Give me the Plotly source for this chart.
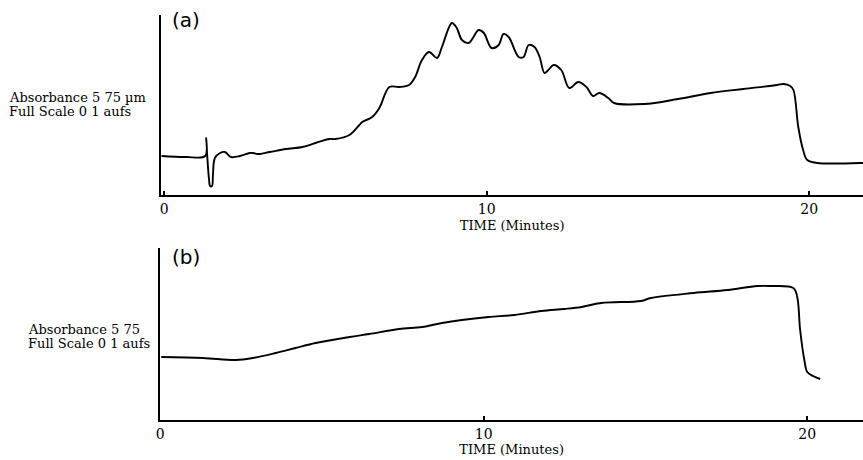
import plotly.graph_objects as go

# Panel (a): time (min) and relative absorbance
time_a = [-0.09, 0.68, 1.27, 1.30, 1.33, 1.39, 1.42, 1.48, 1.51, 1.57, 1.73, 1.88, 2.07, 2.35,
          2.65, 2.75, 2.90, 3.27, 3.77, 4.29, 4.69, 5.12, 5.31, 5.74, 6.05, 6.14, 6.45, 6.67,
          6.98, 7.28, 7.59, 7.78, 7.99, 8.21, 8.46, 8.61, 8.92, 9.07, 9.23, 9.44, 9.75, 9.91,
          10.15, 10.37, 10.52, 10.68, 10.99, 11.14, 11.30, 11.48, 11.64, 11.79, 11.91, 12.07,
          12.31, 12.56, 12.84, 13.09, 13.30, 13.49, 13.77, 13.95, 14.88, 15.93, 16.94, 17.96,
          19.01, 19.20, 19.41, 19.51, 19.66, 19.81, 19.94, 20.25, 21.57, 21.67]
abs_a = [39, 38, 39, 57, 40, 15, 9, 9, 20, 37, 42, 43, 38, 39,
         42, 42, 41, 43, 46, 48, 52, 56, 56, 60, 70, 73, 78, 87,
         108, 108, 110, 118, 135, 143, 137, 148, 172, 167, 155, 152, 165, 162,
         147, 150, 161, 158, 138, 138, 150, 148, 138, 122, 125, 130,
         125, 107, 113, 108, 99, 102, 97, 92, 91, 96, 102, 106,
         110, 111, 109, 105, 68, 45, 35, 32, 32, 32]

# Panel (b)
time_b = [0.03, 1.32, 2.34, 2.86, 3.57, 4.18, 4.80, 5.85, 6.46, 7.38, 8.09, 8.71, 9.32, 10.15,
          10.95, 11.78, 12.49, 13.02, 13.63, 14.86, 15.17, 16.49, 17.54, 18.46, 18.86, 19.57,
          19.69, 19.78, 19.91, 20.00, 20.18, 20.40]
abs_b = [63, 62, 60, 62, 67, 72, 77, 83, 86, 91, 93, 97, 100, 103,
         105, 109, 111, 113, 117, 119, 122, 127, 130, 134, 134, 132,
         123, 90, 60, 48, 44, 41]

tick_vals = [0, 10, 20]
tick_text = ["0", "10", "20"]

W, H = 863, 460
FONT = "DejaVu Serif"

fig = go.Figure()
fig.add_trace(go.Scatter(x=time_a, y=abs_a, mode="lines", line=dict(color="black", width=1.9),
                         line_shape="spline", xaxis="x", yaxis="y", showlegend=False))
fig.add_trace(go.Scatter(x=time_b, y=abs_b, mode="lines", line=dict(color="black", width=1.9),
                         line_shape="spline", xaxis="x2", yaxis="y2", showlegend=False))

axis_common = dict(showgrid=False, zeroline=False, showline=True, linecolor="black", linewidth=1.8)

fig.update_layout(
    width=W, height=H,
    margin=dict(l=0, r=0, t=0, b=0),
    paper_bgcolor="white", plot_bgcolor="white",
    font=dict(family=FONT, color="black"),
    xaxis=dict(domain=[158 / W, 1], range=[(158 - 161) / 32.4, (863 - 161) / 32.4],
               tickvals=tick_vals, ticktext=tick_text, ticks="inside", ticklen=4, tickwidth=1.5,
               tickcolor="black", tickfont=dict(size=14, family=FONT),
               title=dict(text="TIME (Minutes)", font=dict(size=13, family=FONT), standoff=5),
               anchor="y", **axis_common),
    yaxis=dict(domain=[1 - 195 / H, 1 - 15 / H], range=[0, 180], showticklabels=False,
               ticks="", anchor="x", **axis_common),
    xaxis2=dict(domain=[157 / W, 1], range=[0, (863 - 157) / 32.5],
                tickvals=tick_vals, ticktext=tick_text, ticks="inside", ticklen=4, tickwidth=1.5,
                tickcolor="black", tickfont=dict(size=14, family=FONT),
                title=dict(text="TIME (Minutes)", font=dict(size=13, family=FONT), standoff=4),
                anchor="y2", **axis_common),
    yaxis2=dict(domain=[1 - 420 / H, 1 - 248 / H], range=[0, 172], showticklabels=False,
                ticks="", anchor="x2", **axis_common),
)

def ann(text, xpx, ypx, size, family=FONT, xanchor="left"):
    fig.add_annotation(text=text, x=xpx / W, y=1 - ypx / H, xref="paper", yref="paper",
                       xanchor=xanchor, yanchor="middle", showarrow=False, borderpad=0,
                       font=dict(size=size, family=family, color="black"))

ann("Absorbance 5 75 \u00b5m", 4, 97, 13)
ann("Full Scale 0 1 aufs", 4, 111, 13)
ann("Absorbance 5 75", 23, 329, 13)
ann("Full Scale 0 1 aufs", 23, 343, 13)
ann("(a)", 168, 20, 20, family="DejaVu Sans")
ann("(b)", 168, 257, 20, family="DejaVu Sans")

fig.write_html("out.html")
